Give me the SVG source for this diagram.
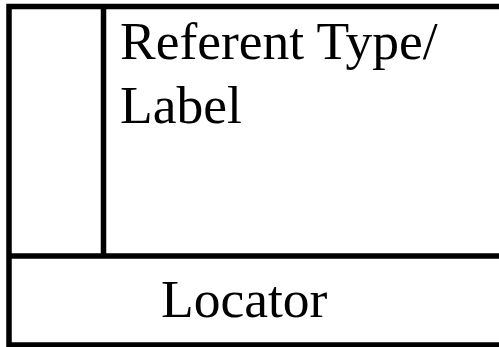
<svg xmlns="http://www.w3.org/2000/svg" width="499" height="347" viewBox="0 0 499 347">
<style>
.ln{stroke:#000;stroke-width:5.5;fill:none}
.t{font-family:"Liberation Serif","Times New Roman",serif;font-size:53.5px;fill:#000}
</style>
<rect width="499" height="347" fill="#fff"/>
<g id="frame">
<rect class="ln" x="9" y="6.5" width="500" height="338.5"/>
<line class="ln" x1="103.5" y1="6.5" x2="103.5" y2="256"/>
<line class="ln" x1="9" y1="256" x2="505" y2="256"/>
</g>
<g id="referent">
<text class="t" x="120" y="58.5">Referent Type/</text>
<text class="t" x="120" y="122.5">Label</text>
</g>
<g id="locator">
<text class="t" x="161" y="316.5">Locator</text>
</g>
</svg>
